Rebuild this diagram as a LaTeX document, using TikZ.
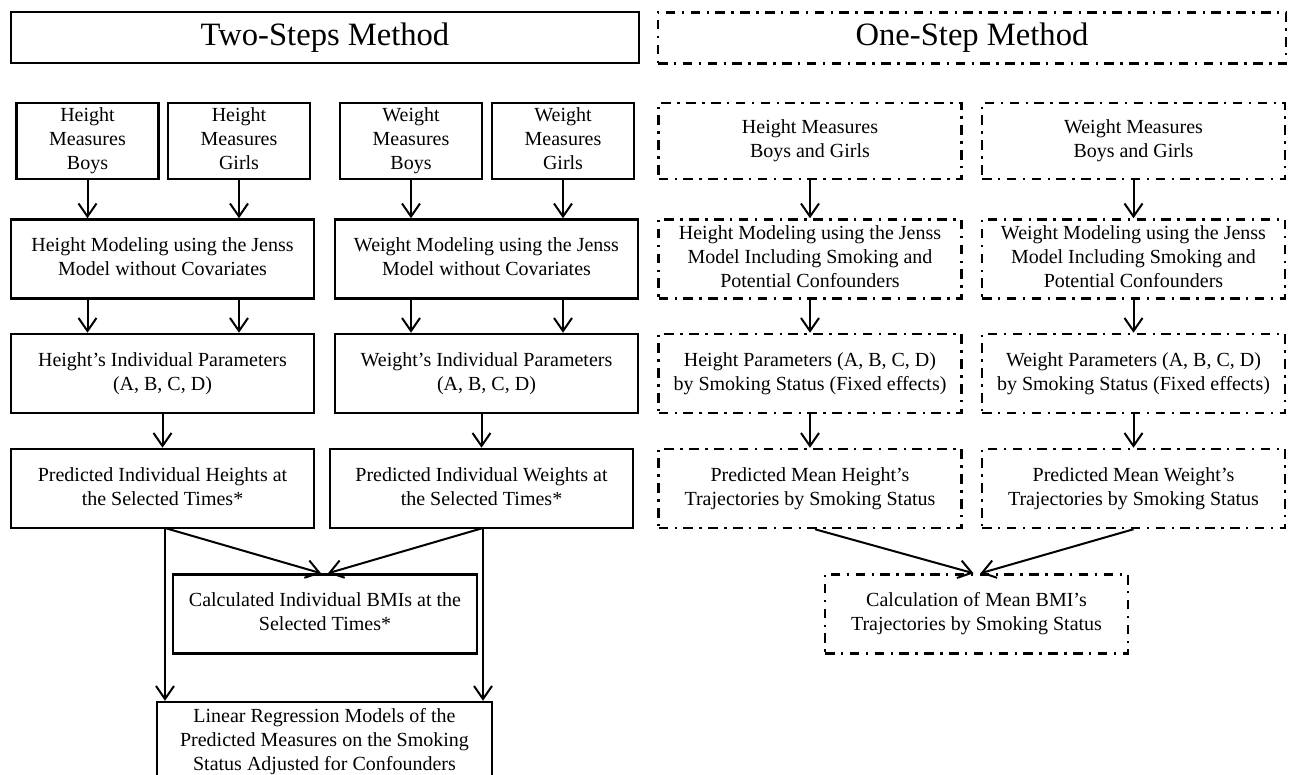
\documentclass[tikz,border=0pt]{standalone}
\usepackage{fontspec}
\setmainfont{Liberation Serif}
\usetikzlibrary{
    positioning,
    arrows.meta,
    calc
}

\begin{document}
\begin{tikzpicture}[x=0.5pt,y=-0.5pt,
  box/.style={draw,line width=1.25pt,align=center,inner sep=0pt,
    font=\fontsize{10}{12}\selectfont,
    execute at begin node={\rule{0pt}{6.9pt}},execute at end node={\rule[-2.2pt]{0pt}{2.2pt}}},
  dbox/.style={box,dash pattern=on 4.8pt off 3.2pt on 1.2pt off 3.2pt},
  heading/.style={font=\fontsize{16.3}{19}\selectfont,minimum width=314pt,minimum height=25.5pt},
  small/.style={minimum width=71pt,minimum height=38pt},
  wide/.style={minimum width=151.5pt,minimum height=39.5pt},
  arr/.style={-{Straight Barb[length=6.5pt,width=9pt]},line width=1pt}]
\useasboundingbox (0,0) rectangle (1292,775);
\node[box,heading] (two) at (325,37.5) {Two-Steps Method};
\node[box,small] (hb) at (87.5,141) {Height\\Measures\\Boys};
\node[box,small] (hg) at (239,141) {Height\\Measures\\Girls};
\node[box,small] (wb) at (411,141) {Weight\\Measures\\Boys};
\node[box,small] (wg) at (563,141) {Weight\\Measures\\Girls};
\node[box,wide] (hm) at (162.5,259) {Height Modeling using the Jenss\\Model without Covariates};
\node[box,wide] (wm) at (486.5,259) {Weight Modeling using the Jenss\\Model without Covariates};
\node[box,wide] (hp) at (162.5,373.5) {Height’s Individual Parameters\\(A, B, C, D)};
\node[box,wide] (wp) at (486.5,373.5) {Weight’s Individual Parameters\\(A, B, C, D)};
\node[box,wide] (ph) at (162.5,488.5) {Predicted Individual Heights at\\the Selected Times*};
\node[box,wide] (pw) at (481.5,488.5) {Predicted Individual Weights at\\the Selected Times*};
\node[box,wide,minimum width=152pt] (bmi) at (325,614) {Calculated Individual BMIs at the\\Selected Times*};
\node[box,minimum width=167.5pt,minimum height=40pt] (lr) at (324.5,742)
  {Linear Regression Models of the\\Predicted Measures on the Smoking\\Status Adjusted for Confounders};
\coordinate (hl) at (165,528);
\coordinate (wl) at (483,528);
\foreach \n in {hb,hg}
  \draw[arr] (\n) -- (\n |- hm.north);
\foreach \n in {wb,wg}
  \draw[arr] (\n) -- (\n |- wm.north);
\draw[arr] (hb |- hm.south) -- (hb |- hp.north);
\draw[arr] (hg |- hm.south) -- (hg |- hp.north);
\draw[arr] (wb |- wm.south) -- (wb |- wp.north);
\draw[arr] (wg |- wm.south) -- (wg |- wp.north);
\draw[arr] (hp) -- (ph);
\draw[arr] (pw.north |- wp.south) -- (pw.north);
\draw[arr] (hl) -- ([xshift=-2pt]bmi.north);
\draw[arr] (wl) -- ([xshift=1.5pt]bmi.north);
\draw[arr] (hl) -- (hl |- lr.north);
\draw[arr] (wl) -- (wl |- lr.north);
% one-step method
\node[dbox,heading] (one) at (972,38) {One-Step Method};
\node[dbox,wide,minimum height=38pt] (hbg) at (810,141) {Height Measures\\Boys and Girls};
\node[dbox,wide,minimum height=38pt] (wbg) at (1133.5,141) {Weight Measures\\Boys and Girls};
\node[dbox,wide] (hmi) at (810,259) {Height Modeling using the Jenss\\Model Including Smoking and\\Potential Confounders};
\node[dbox,wide] (wmi) at (1133.5,259) {Weight Modeling using the Jenss\\Model Including Smoking and\\Potential Confounders};
\node[dbox,wide] (hpf) at (810,373.5) {Height Parameters (A, B, C, D)\\by Smoking Status (Fixed effects)};
\node[dbox,wide] (wpf) at (1133.5,373.5) {Weight Parameters (A, B, C, D)\\by Smoking Status (Fixed effects)};
\node[dbox,wide] (mh) at (810,488.5) {Predicted Mean Height’s\\Trajectories by Smoking Status};
\node[dbox,wide] (mw) at (1133.5,488.5) {Predicted Mean Weight’s\\Trajectories by Smoking Status};
\node[dbox,wide] (cal) at (976.5,614) {Calculation of Mean BMI’s\\Trajectories by Smoking Status};
\draw[arr] (hbg) -- (hmi);
\draw[arr] (wbg) -- (wmi);
\draw[arr] (hmi) -- (hpf);
\draw[arr] (wmi) -- (wpf);
\draw[arr] (hpf) -- (mh);
\draw[arr] (wpf) -- (mw);
\draw[arr] ([xshift=2.5pt]mh.south) -- ([xshift=-1.5pt]cal.north);
\draw[arr] (mw.south) -- ([xshift=2pt]cal.north);
\end{tikzpicture}
\end{document}
